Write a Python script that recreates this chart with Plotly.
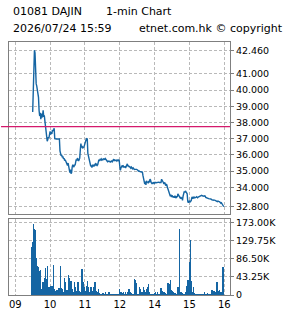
import plotly.graph_objects as go

# ---------------- data ----------------
title_l1a = "01081 DAJIN"
title_l1b = "1-min Chart"
title_l2a = "2026/07/24 15:59"
title_l2b = "etnet.com.hk © copyright"

hour_ticks = [0, 60, 120, 180, 240, 300, 360]          # minutes after 09:00, lunch removed
hour_labels = ["09", "10", "11", "12", "14", "15", "16"]

price_ticks = [42.46, 41.0, 40.0, 39.0, 38.0, 37.0, 36.0, 35.0, 34.0, 32.8]
price_labels = ["42.460", "41.000", "40.000", "39.000", "38.000", "37.000",
                "36.000", "35.000", "34.000", "32.800"]
vol_ticks = [0, 43250, 86500, 129750, 173000]
vol_labels = ["0", "43.25K", "86.50K", "129.75K", "173.00K"]
prev_close = 37.75

am_start_min = 30    # 09:30
pm_start_min = 180   # 13:00 (on the compressed axis)

am_price = [
    38.65, 40.60, 41.90, 42.46, 42.30, 40.50, 40.40, 40.25, 40.00, 39.80,
    39.55, 38.75, 38.40, 38.60, 38.20, 38.55, 38.30, 38.45, 38.75, 38.35,
    38.45, 38.10, 37.85, 37.40, 37.10, 36.85, 36.95, 37.10, 37.05, 37.35,
    37.45, 37.25, 37.40, 37.30, 37.55, 37.50, 37.55, 37.65, 37.00, 36.98,
    36.98, 36.98, 36.98, 36.98, 36.98, 36.98, 36.98, 36.25, 36.05, 35.95,
    36.00, 35.85, 35.90, 35.75, 35.80, 35.65, 35.70, 35.62, 35.55, 35.40,
    35.35, 35.50, 35.20, 35.05, 34.90, 35.10, 34.85, 34.90, 35.25, 35.40,
    35.30, 35.25, 35.40, 35.35, 35.55, 35.72, 35.65, 35.80, 35.75, 35.62,
    35.70, 35.80, 36.30, 36.70, 36.45, 36.55, 36.40, 36.50, 36.45, 36.60,
    36.75, 36.90, 36.95, 37.00, 36.98, 36.10, 35.90, 35.75, 35.60, 35.45,
    35.30, 35.35, 35.22, 35.40, 35.30, 35.35, 35.30, 35.40, 35.45, 35.38,
    35.42, 35.35, 35.40, 35.55, 35.70, 35.62, 35.72, 35.70, 35.75, 35.68,
    35.72, 35.70, 35.75, 35.70, 35.72, 35.78, 35.72, 35.70, 35.62, 35.58,
    35.60, 35.62, 35.58, 35.60, 35.56, 35.60, 35.62, 35.58, 35.62, 35.70,
    35.66, 35.72, 35.65, 35.70, 35.68, 35.62, 35.66, 35.70, 35.65, 35.66,
]
pm_price = [
    35.30, 35.05, 35.20, 35.30, 35.35, 35.28, 35.32, 35.25, 35.30, 35.28,
    35.20, 35.30, 35.35, 35.45, 35.30, 35.35, 35.25, 35.30, 35.22, 35.18,
    35.25, 35.18, 35.15, 35.20, 35.12, 35.10, 35.11, 35.08, 35.11, 35.11,
    35.10, 35.05, 35.00, 35.02, 34.98, 34.96, 34.98, 34.95, 34.96, 34.92,
    34.70, 34.55, 34.45, 34.20, 34.35, 34.15, 34.40, 34.30, 34.35, 34.25,
    34.40, 34.30, 34.50, 34.45, 34.30, 34.25, 34.30, 34.20, 34.28, 34.30,
    34.25, 34.30, 34.30, 34.28, 34.30, 34.30, 34.30, 34.32, 34.30, 34.30,
    34.28, 34.30, 34.50, 34.45, 34.40, 34.30, 34.20, 34.30, 34.25, 34.10,
    34.20, 34.15, 34.00, 33.85, 33.70, 33.60, 33.50, 33.45, 33.55, 33.40,
    33.50, 33.42, 33.38, 33.45, 33.35, 33.48, 33.40, 33.33, 33.45, 33.40,
    33.60, 33.55, 33.48, 33.45, 33.35, 33.40, 33.30, 33.38, 33.20, 33.45,
    33.70, 33.75, 33.68, 33.78, 33.72, 33.65, 33.60, 33.15, 33.05, 33.12,
    33.18, 33.10, 33.15, 33.18, 33.35, 33.40, 33.30, 33.38, 33.42, 33.35,
    33.40, 33.38, 33.42, 33.40, 33.36, 33.40, 33.42, 33.45, 33.48, 33.46,
    33.48, 33.50, 33.48, 33.46, 33.48, 33.45, 33.48, 33.46, 33.38, 33.35,
    33.36, 33.30, 33.32, 33.30, 33.30, 33.32, 33.30, 33.28, 33.24, 33.22,
    33.24, 33.20, 33.22, 33.18, 33.20, 33.18, 33.15, 33.18, 33.12, 33.15,
    33.10, 33.12, 33.10, 33.05, 33.02, 33.05, 33.00, 32.90, 32.85, 32.80,
]
# volume in thousands of shares
am_vol_k = [
    117, 120, 129, 172, 160, 156, 133, 90, 88, 70,
    68, 65, 58, 23, 27, 62, 15, 15, 11, 31,
    20, 8, 42, 66, 39, 35, 30, 70, 19, 15,
    10, 19, 23, 15, 8, 23, 15, 74, 15, 11,
    11, 6, 13, 13, 5, 3, 7, 17, 10, 70,
    17, 11, 11, 15, 7, 4, 42, 20, 31, 12,
    12, 3, 7, 50, 30, 42, 19, 34, 9, 15,
    5, 2, 7, 31, 19, 6, 11, 7, 3, 33,
    23, 5, 11, 7, 3, 15, 64, 46, 31, 12,
    19, 11, 7, 3, 15, 23, 35, 21, 5, 7,
    3, 15, 19, 10, 4, 3, 19, 15, 7, 33,
    11, 5, 2, 3, 9, 15, 5, 0, 2, 3,
    0, 2, 5, 0, 2, 0, 0, 9, 2, 0,
    3, 0, 2, 7, 0, 3, 0, 2, 2, 0,
    0, 2, 0, 3, 0, 2, 0, 3, 0, 2,
]
pm_vol_k = [
    2, 15, 4, 7, 2, 5, 3, 2, 9, 3,
    2, 7, 2, 3, 2, 7, 4, 15, 12, 7,
    3, 5, 2, 3, 0, 2, 4, 40, 36, 30,
    3, 2, 0, 3, 2, 19, 16, 10, 7, 7,
    8, 9, 19, 14, 10, 7, 6, 15, 12, 19,
    10, 28, 9, 4, 2, 3, 0, 3, 0, 2,
    0, 3, 5, 7, 3, 2, 7, 4, 0, 2,
    0, 3, 17, 14, 11, 11, 8, 6, 7, 5,
    4, 3, 2, 4, 30, 25, 28, 9, 8, 36,
    14, 11, 9, 7, 7, 6, 5, 4, 3, 2,
    0, 5, 20, 10, 160, 6, 5, 7, 6, 3,
    4, 3, 2, 0, 3, 8, 23, 12, 24, 38,
    35, 40, 81, 133, 10, 35, 8, 4, 19, 6,
    3, 2, 0, 2, 0, 2, 3, 0, 2, 4,
    2, 0, 2, 3, 0, 2, 4, 7, 2, 3,
    0, 2, 5, 3, 0, 2, 0, 3, 2, 4,
    12, 7, 5, 4, 10, 6, 3, 8, 28, 31,
    10, 8, 7, 12, 6, 8, 7, 4, 5, 68,
]

# ---------------- build ----------------
am_x = [am_start_min + i for i in range(len(am_price))]
pm_x = [pm_start_min + i for i in range(len(pm_price))]
x_all = am_x + pm_x
price_all = am_price + pm_price
vol_all = [v * 1000 for v in am_vol_k + pm_vol_k]

BLUE = "#1565a3"
GRID = "#b9b9b9"
FRAME = "#7f7f7f"
FONT = "DejaVu Sans"

fig = go.Figure()
fig.add_trace(go.Scatter(x=x_all, y=price_all, mode="lines",
                         line=dict(color=BLUE, width=1.4),
                         xaxis="x2", yaxis="y2", hoverinfo="skip"))
fig.add_trace(go.Bar(x=x_all, y=vol_all, marker=dict(color=BLUE, line=dict(width=0)),
                     width=1.0, offset=-1.8, xaxis="x", yaxis="y", hoverinfo="skip"))

xr = [-10.8, 369.8]
common_x = dict(range=xr, tickvals=hour_ticks, showline=True, linecolor=FRAME,
                linewidth=1, mirror=True, showgrid=True, gridcolor=GRID,
                griddash="3px,2px", gridwidth=1, zeroline=False, fixedrange=True)
common_y = dict(side="right", showline=True, linecolor=FRAME, linewidth=1, mirror=True,
                showgrid=True, gridcolor=GRID, griddash="3px,2px", gridwidth=1,
                zeroline=False, ticks="outside", ticklen=3, tickcolor=FRAME,
                tickfont=dict(family=FONT, size=9.5, color="black"), fixedrange=True)

fig.update_layout(
    width=285, height=318,
    margin=dict(l=8, r=55, t=42, b=20),
    paper_bgcolor="white", plot_bgcolor="white",
    showlegend=False, bargap=0,
    xaxis=dict(**common_x, anchor="y", ticktext=hour_labels, ticks="",
               tickfont=dict(family=FONT, size=10, color="black")),
    xaxis2=dict(**common_x, anchor="y2", showticklabels=False, ticks=""),
    yaxis=dict(**common_y, domain=[0, 0.302], range=[0, 183100],
               tickvals=vol_ticks, ticktext=vol_labels, anchor="x"),
    yaxis2=dict(**common_y, domain=[0.3203, 1], range=[32.355, 42.97],
                tickvals=price_ticks, ticktext=price_labels, anchor="x2"),
)

fig.add_shape(type="line", xref="paper", yref="y2", x0=-0.036, x1=1,
              y0=prev_close, y1=prev_close, line=dict(color="#d4196c", width=1.3))

def ann(text, px, py):
    fig.add_annotation(text=text, xref="paper", yref="paper",
                       x=(px - 8) / 222, y=(298 - py) / 256,
                       xanchor="left", yanchor="middle", showarrow=False,
                       borderpad=0, font=dict(family=FONT, size=11, color="black"))

ann(title_l1a, 11, 11.3)
ann(title_l1b, 104, 11.3)
ann(title_l2a, 11, 28.2)
ann(title_l2b, 137.5, 28.2)

fig.write_html("out.html")
